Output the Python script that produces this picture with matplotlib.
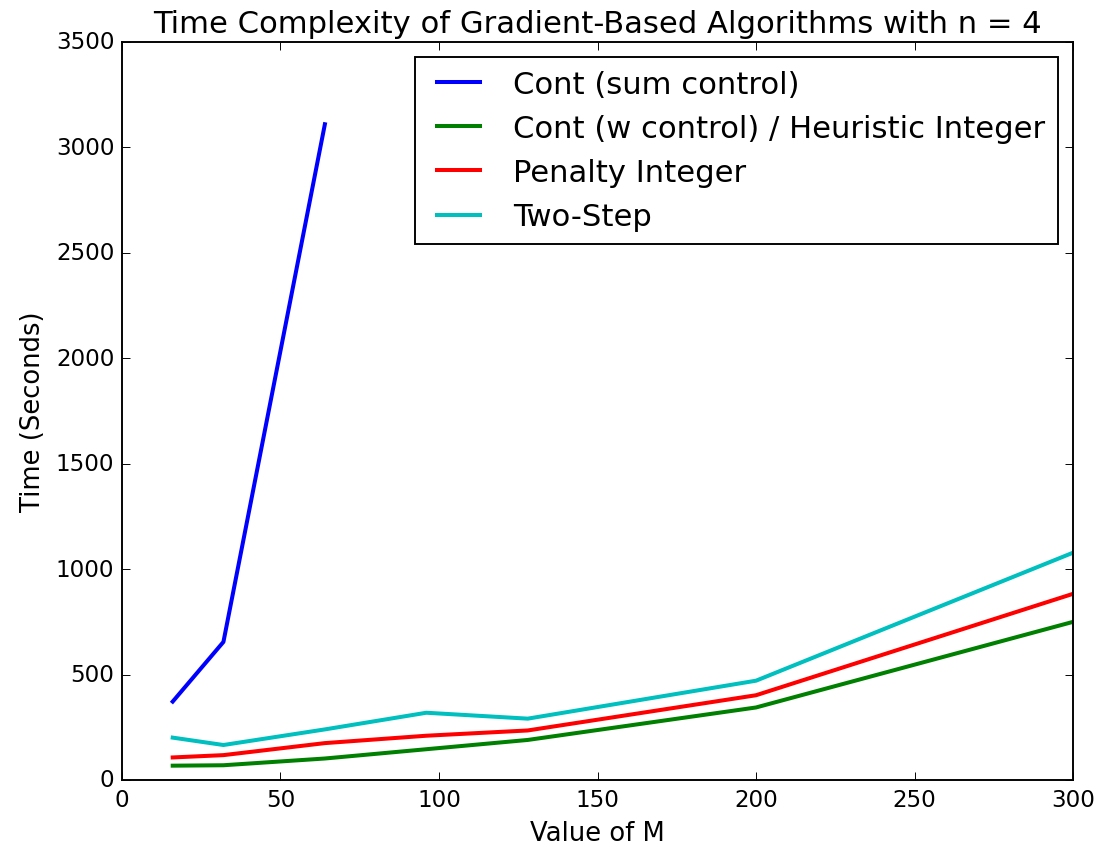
import matplotlib
matplotlib.use('Agg')
import matplotlib.pyplot as plt

# values of M
m_sum = [16, 32, 64]
m_all = [16, 32, 64, 96, 128, 200, 300]

# times in seconds
t_sum_control = [372, 655, 3110]
t_w_control = [68, 70, 102, 146, 190, 344, 750]
t_penalty = [107, 118, 175, 210, 235, 402, 883]
t_two_step = [201, 166, 240, 319, 291, 471, 1078]

plt.style.use('classic')

fig = plt.figure(figsize=(8, 6.156), dpi=137.75, facecolor='white')
ax = fig.add_axes([0.1107, 0.079, 0.8630, 0.8703])

ax.plot(m_sum, t_sum_control, color='b', lw=2.1, label='Cont (sum control)')
ax.plot(m_all, t_w_control, color='g', lw=2.1, label='Cont (w control) / Heuristic Integer')
ax.plot(m_all, t_penalty, color='r', lw=2.1, label='Penalty Integer')
ax.plot(m_all, t_two_step, color='c', lw=2.1, label='Two-Step')

ax.set_xlim(0, 300)
ax.set_ylim(0, 3500)
ax.set_xlabel('Value of M', fontsize=13.5)
ax.set_ylabel('Time (Seconds)', fontsize=13.5)
ax.set_title('Time Complexity of Gradient-Based Algorithms with n = 4', fontsize=16)
ax.legend(loc='upper right', fontsize=16)

fig.savefig('out.png', dpi=137.75, facecolor='white')
